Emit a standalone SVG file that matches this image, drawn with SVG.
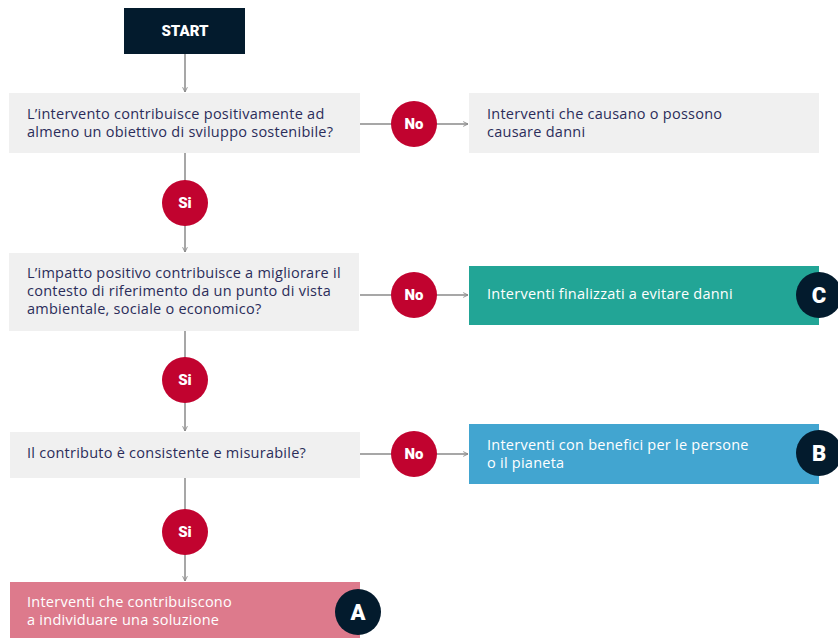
<svg xmlns="http://www.w3.org/2000/svg" width="838" height="638" viewBox="0 0 838 638">
<style>
.q{fill:#f0f0f0}
.t{font-family:"Open Sans","Liberation Sans",sans-serif;font-size:14.5px;letter-spacing:0.25px;fill:#2b2d5a}
.w{font-family:"Open Sans","Liberation Sans",sans-serif;font-size:14.5px;letter-spacing:0.25px;fill:#ffffff}
.b{font-family:Roboto,"Liberation Sans",sans-serif;font-size:15px;font-weight:900;fill:#ffffff;text-anchor:middle}
.L{font-size:22px}
.red{fill:#c1032f}
.navy{fill:#031b2d}
.c{stroke:#8a8a8a;stroke-width:1.5;fill:none}
</style>
<defs>
<marker id="ah" viewBox="0 0 10 10" refX="9" refY="5" markerWidth="6" markerHeight="6" orient="auto" markerUnits="userSpaceOnUse">
<path d="M1,1 L9,5 L1,9" fill="none" stroke="#8a8a8a" stroke-width="1.5"/>
</marker>
</defs>
<rect width="838" height="638" fill="#ffffff"/>
<g id="connectors">
<line class="c" x1="185" y1="54" x2="185" y2="92" marker-end="url(#ah)"/>
<line class="c" x1="185" y1="153" x2="185" y2="252" marker-end="url(#ah)"/>
<line class="c" x1="185" y1="331" x2="185" y2="431" marker-end="url(#ah)"/>
<line class="c" x1="185" y1="478" x2="185" y2="581" marker-end="url(#ah)"/>
<line class="c" x1="360" y1="124" x2="468" y2="124" marker-end="url(#ah)"/>
<line class="c" x1="360" y1="295" x2="468" y2="295" marker-end="url(#ah)"/>
<line class="c" x1="360" y1="454" x2="468" y2="454" marker-end="url(#ah)"/>
</g>
<g id="start">
<rect class="navy" x="124" y="8" width="121" height="46"/>
<text class="b" x="185" y="36">START</text>
</g>
<g id="q1">
<rect class="q" x="9" y="93" width="351" height="60"/>
<text class="t" x="27" y="119">L’intervento contribuisce positivamente ad</text>
<text class="t" x="27" y="137">almeno un obiettivo di sviluppo sostenibile?</text>
</g>
<g id="q2">
<rect class="q" x="9" y="253" width="350" height="78"/>
<text class="t" x="27" y="278">L’impatto positivo contribuisce a migliorare il</text>
<text class="t" x="27" y="296">contesto di riferimento da un punto di vista</text>
<text class="t" x="27" y="314">ambientale, sociale o economico?</text>
</g>
<g id="q3">
<rect class="q" x="10" y="432" width="350" height="46"/>
<text class="t" x="27" y="458">Il contributo è consistente e misurabile?</text>
</g>
<g id="n1">
<rect class="q" x="469" y="93" width="350" height="60"/>
<text class="t" x="487" y="119">Interventi che causano o possono</text>
<text class="t" x="487" y="137">causare danni</text>
</g>
<g id="resC">
<rect x="469" y="266" width="350" height="59" fill="#22a596"/>
<text class="w" x="487" y="299">Interventi finalizzati a evitare danni</text>
<circle class="navy" cx="819" cy="295" r="23"/>
<text class="b L" x="819" y="303">C</text>
</g>
<g id="resB">
<rect x="469" y="424" width="350" height="60" fill="#42a5d0"/>
<text class="w" x="487" y="450">Interventi con benefici per le persone</text>
<text class="w" x="487" y="468">o il pianeta</text>
<circle class="navy" cx="819" cy="453" r="23"/>
<text class="b L" x="819" y="461">B</text>
</g>
<g id="resA">
<rect x="10" y="582" width="350" height="56" fill="#dd7a8c"/>
<text class="w" x="27" y="607">Interventi che contribuiscono</text>
<text class="w" x="27" y="625">a individuare una soluzione</text>
<circle class="navy" cx="358" cy="612" r="23"/>
<text class="b L" x="358" y="620">A</text>
</g>
<g id="si1"><circle class="red" cx="185" cy="203" r="23"/><text class="b" x="185" y="208">Si</text></g>
<g id="si2"><circle class="red" cx="185" cy="380" r="23"/><text class="b" x="185" y="385">Si</text></g>
<g id="si3"><circle class="red" cx="185" cy="532" r="23"/><text class="b" x="185" y="537">Si</text></g>
<g id="no1"><circle class="red" cx="414" cy="124" r="23"/><text class="b" x="414" y="129">No</text></g>
<g id="no2"><circle class="red" cx="414" cy="295" r="23"/><text class="b" x="414" y="300">No</text></g>
<g id="no3"><circle class="red" cx="414" cy="454" r="23"/><text class="b" x="414" y="459">No</text></g>
</svg>
